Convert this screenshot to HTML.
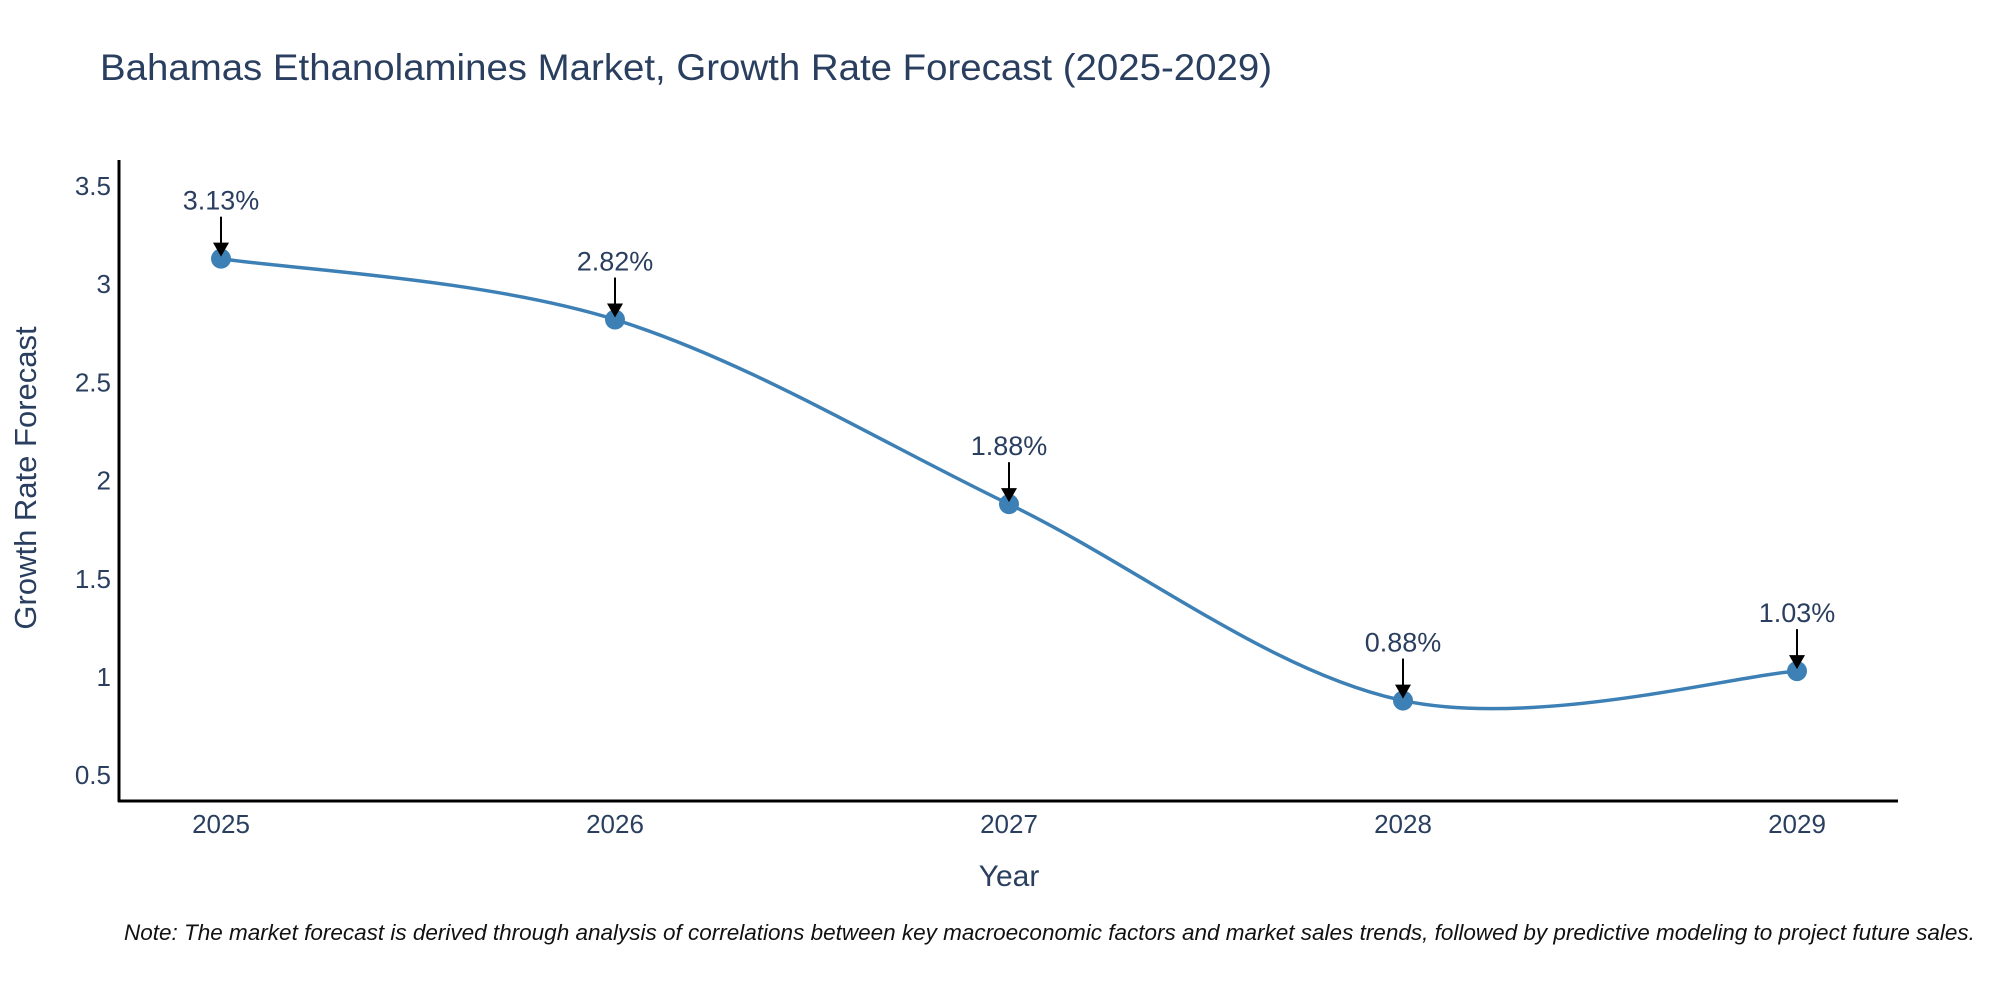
<!DOCTYPE html>
<html><head><meta charset="utf-8"><style>
html,body{margin:0;padding:0;background:#fff;}
svg{display:block;font-family:"Liberation Sans","DejaVu Sans",sans-serif;}
</style></head><body>
<svg id="chart" width="2000" height="1000" viewBox="0 0 2000 1000">
<text x="100" y="80" font-size="37" fill="#2a3f5f" textLength="1172" lengthAdjust="spacingAndGlyphs">Bahamas Ethanolamines Market, Growth Rate Forecast (2025-2029)</text>
<g id="yticks"></g>
<g id="xticks"></g>
<line x1="119" y1="160" x2="119" y2="802" stroke="#000" stroke-width="3"/>
<line x1="118" y1="801" x2="1898" y2="801" stroke="#000" stroke-width="3"/>
<path id="series" fill="none" stroke="#3d80b5" stroke-width="3.5"/>
<g id="points"></g>
<g id="annots"></g>
<text x="1009" y="886" font-size="30" fill="#2a3f5f" text-anchor="middle">Year</text>
<text transform="translate(36,478) rotate(-90)" font-size="31" fill="#2a3f5f" text-anchor="middle">Growth Rate Forecast</text>
<text x="124" y="940" font-size="22.5" font-style="italic" fill="#111">Note: The market forecast is derived through analysis of correlations between key macroeconomic factors and market sales trends, followed by predictive modeling to project future sales.</text>
</svg>
<script>
const years = ["2025","2026","2027","2028","2029"];
const growth = [3.13, 2.82, 1.88, 0.88, 1.03];
const valueLabels = ["3.13%","2.82%","1.88%","0.88%","1.03%"];
const yTickValues = [0.5, 1, 1.5, 2, 2.5, 3, 3.5];
const yTickLabels = ["0.5","1","1.5","2","2.5","3","3.5"];

const NS = "http://www.w3.org/2000/svg";
function xPos(i){ return 221 + i * 394; }
function yPos(v){ return 186 + (3.5 - v) * 196.4; }
function mk(tag, attrs, parent){
  const e = document.createElementNS(NS, tag);
  for (const k in attrs) e.setAttribute(k, attrs[k]);
  parent.appendChild(e);
  return e;
}
const yt = document.getElementById("yticks");
yTickValues.forEach((v, i) => {
  const t = mk("text", {x: 111, y: yPos(v) + 9, "font-size": 26, fill: "#2a3f5f", "text-anchor": "end"}, yt);
  
  
  t.textContent = yTickLabels[i];
});
const xt = document.getElementById("xticks");
years.forEach((y, i) => {
  const t = mk("text", {x: xPos(i), y: 833, "font-size": 26, fill: "#2a3f5f", "text-anchor": "middle"}, xt);
  
  
  t.textContent = y;
});
const pts = growth.map((v, i) => [xPos(i), yPos(v)]);
let d = "M" + pts[0][0] + "," + pts[0][1];
for (let i = 0; i < pts.length - 1; i++) {
  const p0 = pts[Math.max(0, i - 1)], p1 = pts[i], p2 = pts[i + 1], p3 = pts[Math.min(pts.length - 1, i + 2)];
  const c1 = [p1[0] + (p2[0] - p0[0]) / 6, p1[1] + (p2[1] - p0[1]) / 6];
  const c2 = [p2[0] - (p3[0] - p1[0]) / 6, p2[1] - (p3[1] - p1[1]) / 6];
  d += " C" + c1.join(",") + " " + c2.join(",") + " " + p2.join(",");
}
document.getElementById("series").setAttribute("d", d);
const pg = document.getElementById("points");
const ag = document.getElementById("annots");
pts.forEach((p, i) => {
  const c = mk("circle", {cx: p[0], cy: p[1], r: 10, fill: "#3d80b5"}, pg);
  
  
  const l = mk("line", {x1: p[0], y1: p[1] - 42, x2: p[0], y2: p[1] - 12, stroke: "#000", "stroke-width": 2}, ag);
  
  
  const h = mk("polygon", {points: (p[0]-8)+","+(p[1]-16)+" "+(p[0]+8)+","+(p[1]-16)+" "+p[0]+","+(p[1]-2), fill: "#000"}, ag);
  
  
  const t = mk("text", {x: p[0], y: p[1] - 49, "font-size": 27, fill: "#2a3f5f", "text-anchor": "middle"}, ag);
  
  
  t.textContent = valueLabels[i];
});
</script>
</body></html>
